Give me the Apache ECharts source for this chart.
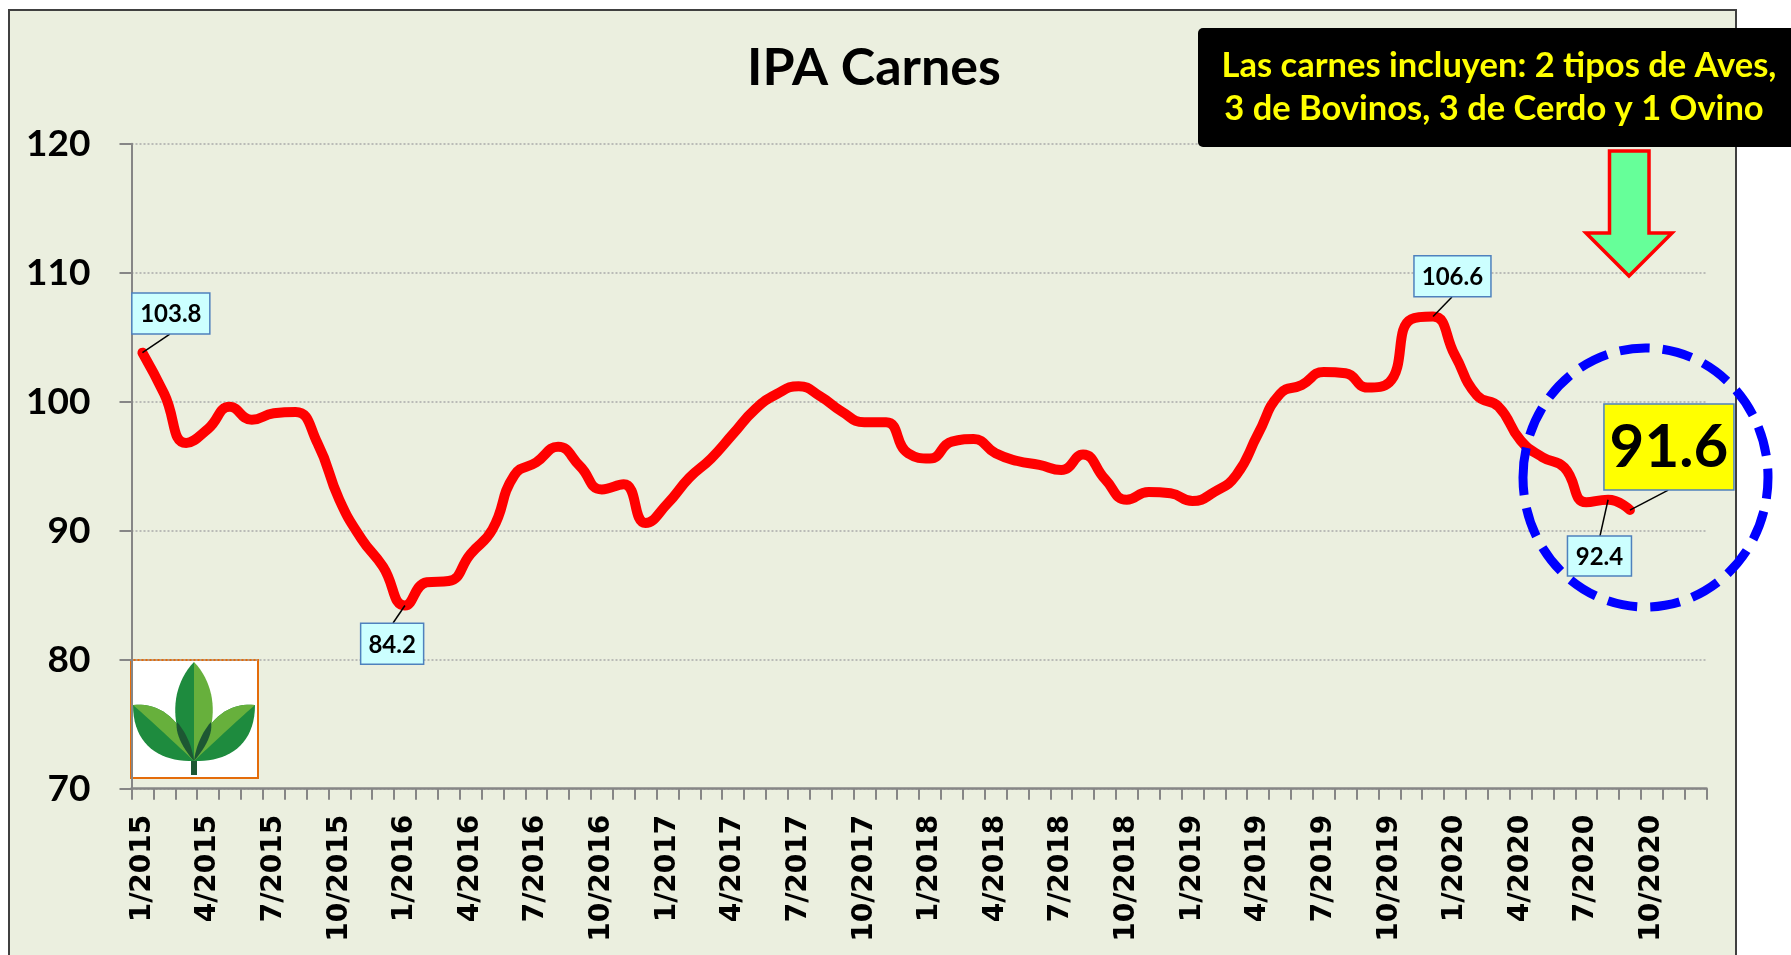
<!DOCTYPE html>
<html><head><meta charset="utf-8">
<script src="https://cdn.jsdelivr.net/npm/echarts@6/dist/echarts.min.js"></script>
<style>html,body{margin:0;padding:0;background:#fff;overflow:hidden}#c{width:1791px;height:955px}</style>
</head><body><div id="c"></div>
<script>
// ---- data ----
const years = [2015, 2016, 2017, 2018, 2019, 2020];
const months = [1, 2, 3, 4, 5, 6, 7, 8, 9, 10, 11, 12];
const categories = years.flatMap(y => months.map(m => m + '/' + y));
const ipaCarnes = [
  103.8, 100.6, 96.8, 97.9, 99.6, 98.6, 99.1, 99.2, 96.8, 92.4, 89.4, 87.2,
  84.2, 86.0, 86.1, 88.2, 90.1, 94.3, 95.3, 96.5, 95.0, 93.2, 93.6, 90.6,
  92.1, 94.1, 95.6, 97.5, 99.4, 100.6, 101.2, 100.4, 99.2, 98.4, 98.4, 96.0,
  95.6, 96.9, 97.1, 96.0, 95.4, 95.1, 94.7, 95.9, 94.0, 92.4, 93.0, 92.9,
  92.3, 93.0, 94.3, 97.5, 100.6, 101.3, 102.3, 102.2, 101.1, 101.5, 106.4, 106.6,
  103.6, 100.5, 99.6, 97.0, 95.7, 94.9, 92.2, 92.4, 91.6
];
const yMin = 70, yMax = 120, yStep = 10;
const calloutIdx = [0, 12, 59, 67, 68];
const calloutText = ['103.8', '84.2', '106.6', '92.4', '91.6'];
const titleText = 'IPA Carnes';
const noteLines = ['Las carnes incluyen: 2 tipos de Aves,', '3 de Bovinos, 3 de Cerdo y 1 Ovino'];

// ---- layout / style (not data) ----
const calloutStyle = [
  { dx: 28.4, dy: -39.1, w: 78, h: 41, ax: 27.4, ay: -18.6, fill: '#CCFFFF', font: 24 },
  { dx: -12.8, dy: 38.3, w: 63, h: 41, ax: -11.9, ay: 17.5, fill: '#CCFFFF', font: 24 },
  { dx: 19.4, dy: -40.2, w: 77, h: 41, ax: 18.9, ay: -19.6, fill: '#CCFFFF', font: 24 },
  { dx: -8.6, dy: 56.3, w: 64, h: 40, ax: -8.1, ay: 36.3, fill: '#CCFFFF', font: 24 },
  { dx: 39, dy: -63, w: 130, h: 86, ax: 38.3, ay: -20, fill: '#FFFF00', font: 60 }
];

function cubic(p0, p1, p2, p3, n) {
  const out = [];
  for (let i = 0; i <= n; i++) {
    const t = i / n, u = 1 - t;
    out.push([
      u*u*u*p0[0] + 3*u*u*t*p1[0] + 3*u*t*t*p2[0] + t*t*t*p3[0],
      u*u*u*p0[1] + 3*u*u*t*p1[1] + 3*u*t*t*p2[1] + t*t*t*p3[1]
    ]);
  }
  return out;
}
function quad(p0, p1, p2, n) {
  const out = [];
  for (let i = 0; i <= n; i++) {
    const t = i / n, u = 1 - t;
    out.push([u*u*p0[0] + 2*u*t*p1[0] + t*t*p2[0], u*u*p0[1] + 2*u*t*p1[1] + t*t*p2[1]]);
  }
  return out;
}

const chart = echarts.init(document.getElementById('c'), null, { renderer: 'canvas' });

const green = '#1E8B3E', light = '#67B03C', dark = '#1D5733';
const B = [194, 761];
function poly(points, fill) { return { type: 'polygon', shape: { points: points }, style: { fill: fill } }; }
const logoChildren = [
  { type: 'rect', shape: { x: 131, y: 660, width: 127, height: 118 }, style: { fill: '#FFFFFF', stroke: '#E46C0A', lineWidth: 2 } },
  // left leaf
  poly(cubic([133, 705], [160, 702], [184, 720], B, 20).concat(cubic(B, [160, 762], [133, 745], [133, 705], 20)), green),
  poly(cubic([133, 705], [160, 702], [184, 720], B, 20).concat(quad(B, [158, 727], [133, 705], 20)), light),
  // right leaf
  poly(cubic([255, 705], [228, 702], [204, 720], B, 20).concat(cubic(B, [228, 762], [255, 745], [255, 705], 20)), green),
  poly(cubic([255, 705], [228, 702], [204, 720], B, 20).concat(quad(B, [230, 727], [255, 705], 20)), light),
  // centre leaf
  poly(cubic(B, [171, 735], [167, 690], [194, 662], 24), green),
  poly(cubic([194, 662], [221, 690], [217, 735], B, 24), light),
  // overlaps near the base
  poly(cubic(B, [181, 746], [175, 732], [177, 722], 12).concat(cubic([177, 722], [185, 731], [192, 745], B, 12)), dark),
  poly(cubic(B, [207, 746], [213, 732], [211, 722], 12).concat(cubic([211, 722], [203, 731], [196, 745], B, 12)), dark),
  { type: 'rect', shape: { x: 191, y: 761, width: 6, height: 14 }, style: { fill: dark } }
];
const logo = { type: 'group', z: 50, children: logoChildren };

const option = {
  backgroundColor: '#FFFFFF',
  animation: false,
  title: {
    text: titleText, left: 747, top: 42, padding: 0,
    textStyle: { fontFamily: 'Lato', fontWeight: 'bold', fontSize: 52, color: '#000' }
  },
  grid: { left: 131.5, right: 84.5, top: 143.7, bottom: 166.3, containLabel: false },
  xAxis: {
    type: 'category', data: categories, boundaryGap: true,
    axisLine: { lineStyle: { color: '#868686', width: 2.5 } },
    axisTick: { show: true, interval: 0, length: 11, lineStyle: { color: '#868686', width: 2 } },
    axisLabel: { interval: 2, rotate: 90, margin: 26, fontFamily: 'DejaVu Sans', fontWeight: 'bold', fontSize: 28, color: '#000' },
    splitLine: { show: false }
  },
  yAxis: {
    type: 'value', min: yMin, max: yMax, interval: yStep,
    axisLine: { show: true, lineStyle: { color: '#868686', width: 2 } },
    axisTick: { show: true, length: 12, lineStyle: { color: '#868686', width: 2 } },
    axisLabel: { margin: 41, fontFamily: 'Lato', fontWeight: 'bold', fontSize: 37, color: '#000' },
    splitLine: { show: true, lineStyle: { color: '#ABABAB', width: 1.5, type: [2, 2] } }
  },
  series: [{
    type: 'line', name: titleText, data: ipaCarnes, smooth: 0.5, symbol: 'none', z: 5,
    lineStyle: { color: '#FF0000', width: 10, cap: 'round', join: 'round' }
  }],
  graphic: [
    { type: 'rect', z: -100, silent: true, shape: { x: 9, y: 10, width: 1727, height: 970 }, style: { fill: '#EBEFDF', stroke: '#404040', lineWidth: 2 } }
  ]
};
chart.setOption(option);

// ---- annotations placed through the chart's own scales ----
const g = [];
calloutIdx.forEach((idx, k) => {
  const p = chart.convertToPixel({ seriesIndex: 0 }, [idx, ipaCarnes[idx]]);
  const s = calloutStyle[k];
  const cx = p[0] + s.dx, cy = p[1] + s.dy;
  g.push({ type: 'line', z: 60, shape: { x1: p[0], y1: p[1], x2: p[0] + s.ax, y2: p[1] + s.ay }, style: { stroke: '#000', lineWidth: 1.5 } });
  g.push({ type: 'rect', z: 61, shape: { x: cx - s.w / 2, y: cy - s.h / 2, width: s.w, height: s.h }, style: { fill: s.fill, stroke: '#4F81BD', lineWidth: 1.5 } });
  g.push({ type: 'text', z: 62, x: cx, y: cy + 1, style: { text: calloutText[k], font: 'bold ' + s.font + 'px Lato', fill: '#000', align: 'center', verticalAlign: 'middle' } });
});
g.push({ type: 'ellipse', z: 70, shape: { cx: 1645.5, cy: 477.5, rx: 122.5, ry: 129.5 }, style: { fill: null, stroke: '#0000FF', lineWidth: 9, lineDash: [30, 13] } });
g.push({ type: 'polygon', z: 70, shape: { points: [[1609.5, 151], [1649, 151], [1649, 233], [1672, 233], [1629, 276], [1586, 233], [1609.5, 233]] }, style: { fill: '#66FF99', stroke: '#FF0000', lineWidth: 3.5, lineJoin: 'miter' } });
g.push({ type: 'rect', z: 80, shape: { x: 1198, y: 28, width: 600, height: 119, r: 5 }, style: { fill: '#000000' } });
g.push({ type: 'text', z: 81, x: 1499, y: 66, style: { text: noteLines[0], font: 'bold 34.5px Lato', fill: '#FFFF00', align: 'center', verticalAlign: 'middle' } });
g.push({ type: 'text', z: 81, x: 1494, y: 109, style: { text: noteLines[1], font: 'bold 34.5px Lato', fill: '#FFFF00', align: 'center', verticalAlign: 'middle' } });
g.push(logo);

chart.setOption({ graphic: option.graphic.concat(g) });
</script>
</body></html>
